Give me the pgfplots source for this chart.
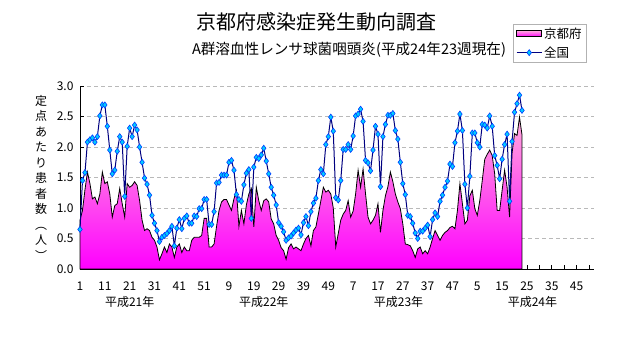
\documentclass[border=0pt]{standalone}
\usepackage{fontspec}
\setmainfont{Noto Sans CJK JP}
\usepackage{pgfplots}
\pgfplotsset{compat=1.18}
\usepackage{pgfplotstable}
\definecolor{navyline}{RGB}{0,0,128}
\definecolor{mkfill}{RGB}{0,204,255}
\definecolor{mkdraw}{RGB}{0,60,255}
\definecolor{pinktop}{RGB}{255,170,220}
\definecolor{pinkbot}{RGB}{255,0,255}
\definecolor{gridgray}{RGB}{185,185,185}
\pgfplotsset{
  pinklegend/.style={legend image code/.code={\draw[##1, draw=black, line width=0.6bp] (0bp,-3bp) rectangle (25bp,3bp);}},
  bluelegend/.style={legend image code/.code={\draw[mark repeat=2, mark phase=2, ##1] plot coordinates {(0bp,0bp) (12.5bp,0bp) (25bp,0bp)};}}
}

\pgfplotstableread{
i v
1 0.80
2 0.96
3 1.30
4 1.59
5 1.40
6 1.15
7 1.18
8 1.07
9 1.23
10 1.59
11 1.40
12 1.43
13 1.23
14 0.85
15 1.04
16 1.07
17 1.32
18 1.07
19 0.85
20 1.40
21 1.34
22 1.37
23 1.43
24 1.37
25 1.12
26 0.80
27 0.63
28 0.66
29 0.63
30 0.52
31 0.47
32 0.36
33 0.15
34 0.25
35 0.36
36 0.27
37 0.41
38 0.36
39 0.19
40 0.36
41 0.41
42 0.27
43 0.36
44 0.30
45 0.30
46 0.47
47 0.52
48 0.52
49 0.52
50 0.55
51 0.83
52 0.83
53 0.36
54 0.36
55 0.41
56 0.70
57 0.96
58 1.10
59 1.14
60 1.14
61 1.05
62 0.96
63 1.15
64 1.29
65 0.70
66 0.96
67 0.74
68 1.05
69 1.23
70 1.32
71 0.69
72 1.34
73 1.12
74 0.96
75 1.12
76 1.15
77 1.10
78 0.82
79 0.74
80 0.55
81 0.47
82 0.35
83 0.30
84 0.16
85 0.35
86 0.41
87 0.33
88 0.36
89 0.33
90 0.30
91 0.41
92 0.50
93 0.55
94 0.38
95 0.63
96 0.69
97 0.90
98 1.12
99 1.34
100 1.26
101 1.29
102 1.23
103 1.00
104 0.36
105 0.58
106 0.80
107 0.90
108 0.96
109 1.12
110 0.85
111 0.95
112 1.23
113 1.62
114 1.34
115 1.64
116 1.23
117 0.85
118 0.74
119 0.80
120 0.88
121 1.07
122 0.60
123 0.96
124 1.20
125 1.35
126 1.59
127 1.43
128 1.23
129 1.10
130 0.99
131 0.74
132 0.41
133 0.40
134 0.38
135 0.30
136 0.19
137 0.33
138 0.36
139 0.25
140 0.30
141 0.25
142 0.36
143 0.50
144 0.63
145 0.55
146 0.47
147 0.55
148 0.60
149 0.63
150 0.68
151 0.70
152 0.66
153 0.96
154 1.40
155 1.07
156 0.74
157 0.80
158 1.20
159 1.29
160 0.99
161 0.88
162 1.12
163 1.45
164 1.80
165 1.88
166 1.95
167 1.86
168 1.56
169 0.96
170 0.96
171 1.29
172 1.62
173 1.34
174 0.85
175 1.90
176 2.22
177 2.19
178 2.49
179 2.20
}\kyoto

\pgfplotstableread{
i v
1 0.65
2 1.45
3 1.58
4 2.08
5 2.12
6 2.15
7 2.08
8 2.17
9 2.51
10 2.69
11 2.69
12 2.34
13 1.95
14 1.56
15 1.62
16 1.93
17 2.17
18 2.08
19 1.19
20 2.01
21 2.31
22 2.17
23 2.36
24 2.28
25 2.00
26 1.75
27 1.49
28 1.39
29 1.21
30 0.88
31 0.75
32 0.63
33 0.45
34 0.52
35 0.55
36 0.58
37 0.63
38 0.70
39 0.38
40 0.67
41 0.81
42 0.66
43 0.83
44 0.87
45 0.75
46 0.75
47 0.87
48 0.86
49 0.99
50 0.99
51 1.14
52 1.14
53 0.73
54 0.73
55 0.94
56 1.41
57 1.42
58 1.54
59 1.54
60 1.54
61 1.75
62 1.78
63 1.62
64 1.22
65 1.14
66 1.11
67 1.38
68 1.57
69 1.63
70 0.83
71 1.67
72 1.83
73 1.81
74 1.87
75 1.98
76 1.77
77 1.56
78 1.34
79 1.21
80 1.05
81 0.76
82 0.70
83 0.61
84 0.47
85 0.51
86 0.54
87 0.59
88 0.64
89 0.67
90 0.56
91 0.76
92 0.86
93 0.71
94 0.94
95 1.08
96 1.16
97 1.45
98 1.63
99 1.56
100 2.04
101 2.17
102 2.49
103 2.26
104 1.17
105 1.13
106 1.45
107 1.96
108 1.96
109 2.04
110 1.96
111 2.18
112 2.51
113 2.54
114 2.62
115 2.42
116 1.78
117 1.74
118 1.61
119 1.95
120 2.34
121 2.21
122 1.35
123 2.17
124 2.37
125 2.52
126 2.52
127 2.55
128 2.27
129 2.13
130 1.75
131 1.40
132 1.22
133 0.88
134 0.86
135 0.75
136 0.59
137 0.50
138 0.62
139 0.62
140 0.67
141 0.72
142 0.53
143 0.81
144 0.92
145 0.86
146 1.11
147 1.21
148 1.34
149 1.44
150 1.72
151 1.68
152 2.07
153 2.26
154 2.54
155 2.27
156 1.39
157 1.00
158 1.52
159 2.23
160 2.23
161 2.07
162 2.00
163 2.37
164 2.36
165 2.31
166 2.51
167 2.34
168 1.86
169 1.70
170 1.48
171 1.80
172 2.04
173 2.21
174 1.11
175 2.09
176 2.57
177 2.71
178 2.85
179 2.60
}\zenkoku

\begin{document}
\begin{tikzpicture}
\useasboundingbox (0bp,0bp) rectangle (632bp,348bp);
\node[font=\fontsize{20bp}{24bp}\selectfont] at (316bp,326bp) {京都府感染症発生動向調査};
\node[font=\fontsize{14.6bp}{16bp}\selectfont] at (349bp,298bp) {A群溶血性レンサ球菌咽頭炎(平成24年23週現在)};
\node[align=center, inner sep=0pt, font=\fontsize{12bp}{15.5bp}\selectfont] at (41bp,170.5bp) {定\\点\\あ\\た\\り\\患\\者\\数\\︵\\人\\︶};
\begin{axis}[
  at={(80bp,79bp)}, anchor=south west,
  scale only axis, width=514bp, height=183bp,
  xmin=1, xmax=208, ymin=0, ymax=3,
  axis lines*=left,
  axis line style={black, line width=0.8bp},
  tick align=inside,
  major tick length=4bp, minor tick length=4bp,
  tick style={black, line width=0.6bp},
  xtick={1,11,...,201}, minor xtick={6,16,...,206},
  xticklabels={1,11,21,31,41,51,9,19,29,39,49,7,17,27,37,47,5,15,25,35,45},
  ytick={0,0.5,...,3},
  /pgf/number format/fixed,
  /pgf/number format/fixed zerofill,
  /pgf/number format/precision=1,
  /pgf/number format/assume math mode=true,
  ticklabel style={font=\fontsize{12bp}{14bp}\selectfont},
  xticklabel style={yshift=-9bp},
  yticklabel style={xshift=-3bp},
  ymajorgrids,
  grid style={gridgray, dash pattern=on 4bp off 3bp, line width=0.7bp},
  clip=false,
  legend style={at={(0.8424,1.339)}, anchor=north west, draw=gray!60, fill=white,
    font=\fontsize{12.5bp}{14bp}\selectfont, inner xsep=3bp, inner ysep=1.5bp, row sep=3bp,
    cells={anchor=west}},
]
\addplot[draw=black, line width=0.8bp, top color=pinktop, bottom color=pinkbot, pinklegend]
  table[x=i,y=v]{\kyoto} \closedcycle;
\addlegendentry{京都府}
\addplot[color=navyline, line width=1bp, mark=diamond*, mark size=3bp,
  mark options={fill=mkfill, draw=mkdraw, line width=0.6bp}, bluelegend]
  table[x=i,y=v]{\zenkoku};
\addlegendentry{全国}
\node[font=\fontsize{12bp}{14bp}\selectfont] at (axis cs:21,0) [yshift=-33bp] {平成21年};
\node[font=\fontsize{12bp}{14bp}\selectfont] at (axis cs:75,0) [yshift=-33bp] {平成22年};
\node[font=\fontsize{12bp}{14bp}\selectfont] at (axis cs:129.3,0) [yshift=-33bp] {平成23年};
\node[font=\fontsize{12bp}{14bp}\selectfont] at (axis cs:183.2,0) [yshift=-33bp] {平成24年};
\end{axis}
\end{tikzpicture}
\end{document}
